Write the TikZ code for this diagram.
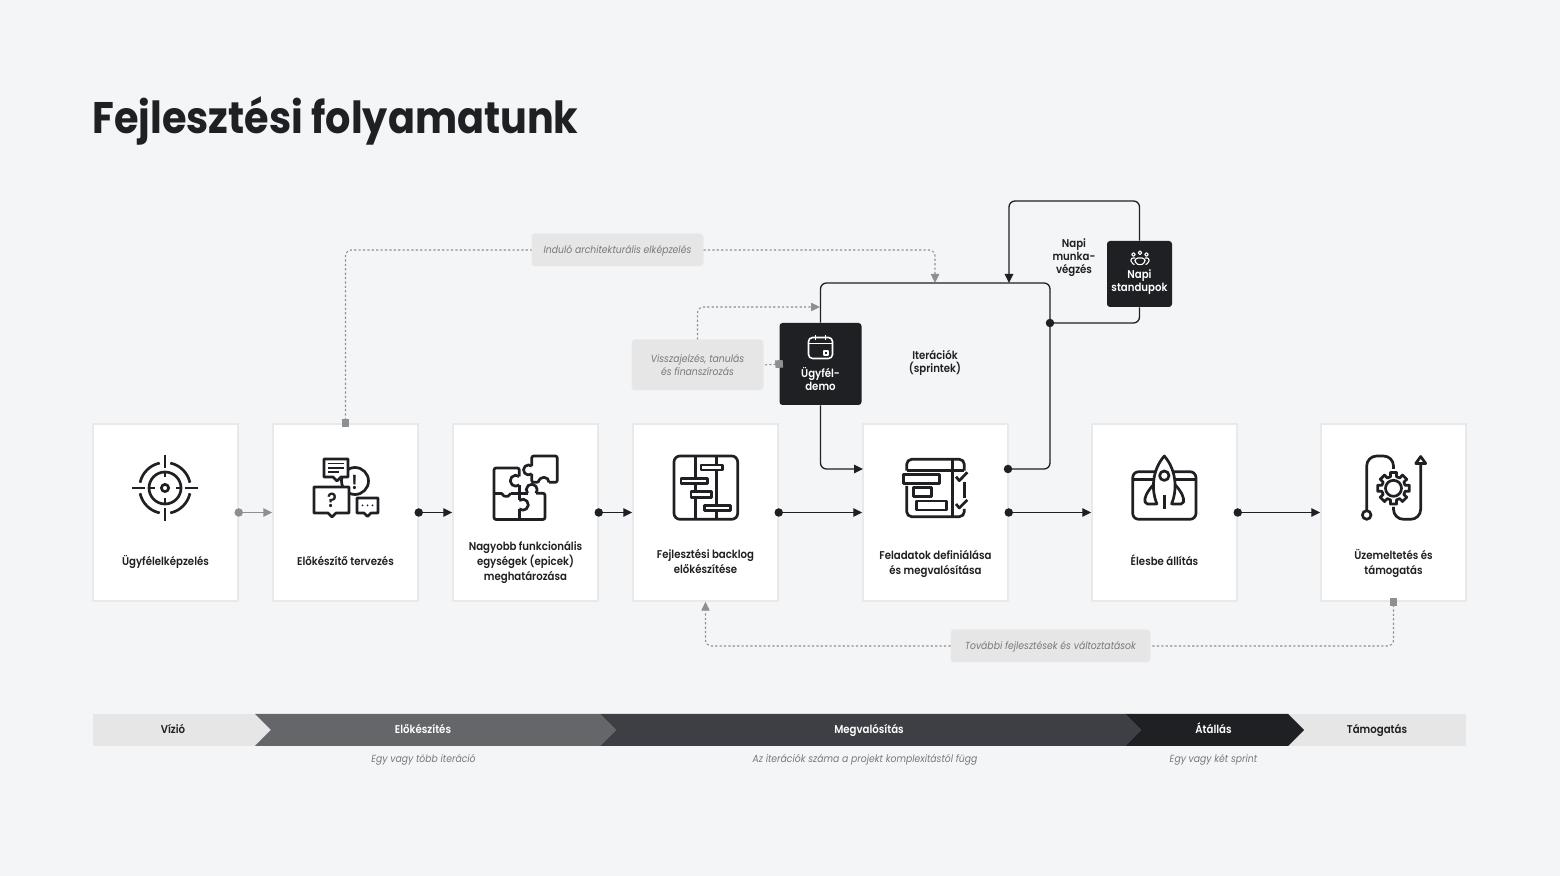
\documentclass[tikz,border=0pt]{standalone}
\usepackage{fontspec}
\setmainfont{Poppins}[FakeStretch=0.9, BoldFont={Poppins SemiBold}]
\newfontfamily\titlefont{Poppins}[FakeStretch=0.9]
\usetikzlibrary{arrows.meta}
\definecolor{paper}{HTML}{F4F5F7}
\definecolor{ink}{HTML}{1F2023}
\definecolor{edge}{HTML}{E9E9EA}
\definecolor{notefill}{HTML}{E6E6E6}
\definecolor{notetext}{HTML}{77787B}
\definecolor{hint}{HTML}{8E8F91}
\definecolor{phaseA}{HTML}{65666A}
\definecolor{phaseB}{HTML}{3E3F44}
\newcommand{\lblfont}{\fontsize{5.65}{7.5}\selectfont\bfseries}
\newcommand{\tightfont}{\fontsize{5.65}{6.5}\selectfont\bfseries}
\newcommand{\notefont}{\fontsize{5.15}{6.5}\selectfont\itshape}
\tikzset{
  card/.style={rectangle, draw=edge, fill=white, line width=.75pt, inner sep=0pt, minimum width=72.5pt, minimum height=88.5pt},
  lbl/.style={align=center, inner sep=0pt, text=ink, font=\lblfont},
  tight/.style={lbl, font=\tightfont},
  oneline/.style={text height=5.2pt, text depth=1.2pt},
  note/.style={rectangle, rounded corners=1.5pt, draw=edge, fill=notefill, line width=.5pt, inner sep=0pt, align=center, text=notetext, font=\notefont},
  hinttxt/.style={align=center, inner sep=0pt, text=notetext, font=\notefont, oneline},
  darkbox/.style={rectangle, rounded corners=1.5pt, fill=ink, inner sep=0pt},
  flow/.style={draw=ink, line width=.65pt, rounded corners=3pt, -{Triangle[length=4.5pt,width=4.2pt]}},
  dotflow/.style={flow, {Circle[length=4.2pt]}-{Triangle[length=4.5pt,width=4.2pt]}, shorten <=-2.1pt},
  plainline/.style={draw=ink, line width=.65pt, rounded corners=3pt},
  hintflow/.style={draw=hint, line width=.55pt, rounded corners=3pt, dash pattern=on 1.1pt off 1.1pt},
  icon/.style={draw=ink, line width=1.35pt, line join=round},
  iconw/.style={draw=white, line width=.8pt, line join=round},
}
\begin{document}
\begin{tikzpicture}[x=.5pt,y=.5pt,yscale=-1]
  \useasboundingbox[fill=paper] (0,0) rectangle (1560,876);
  \node[anchor=west, inner sep=0pt, text=ink, font=\fontsize{22.1}{26}\selectfont\titlefont\bfseries] (title) at (92,121) {Fejlesztési folyamatunk};

  % cards
  \node[card] (vision) at (165.5,512.5) {};
  \node[card] (prep) at (345.5,512.5) {};
  \node[card] (epics) at (525.5,512.5) {};
  \node[card] (backlog) at (705.5,512.5) {};
  \node[card] (tasks) at (935.5,512.5) {};
  \node[card] (golive) at (1164.5,512.5) {};
  \node[card] (ops) at (1393.5,512.5) {};
  \node[lbl, oneline] (visionTxt) at (165.5,561.5) {Ügyfélelképzelés};
  \node[lbl, oneline] (prepTxt) at (345.5,561.5) {Előkészítő tervezés};
  \node[lbl] (epicsTxt) at (525.5,562.5) {Nagyobb funkcionális\\egységek (epicek)\\meghatározása};
  \node[lbl] (backlogTxt) at (705.5,561.5) {Fejlesztési backlog\\előkészítése};
  \node[lbl] (tasksTxt) at (935.5,563.5) {Feladatok definiálása\\és megvalósítása};
  \node[lbl, oneline] (goliveTxt) at (1164.5,561.5) {Élesbe állítás};
  \node[lbl] (opsTxt) at (1393.5,563) {Üzemeltetés és\\támogatás};

  % sprint part
  \node[darkbox, minimum width=41pt, minimum height=41pt] (demo) at (820.5,364) {};
  \node[tight, text=white] (demoTxt) at (820.5,378.5) {Ügyfél-\\demo};
  \node[darkbox, minimum width=32.5pt, minimum height=33pt] (standup) at (1139.5,274) {};
  \node[tight, text=white] (standupTxt) at (1139.5,282.5) {Napi\\standupok};
  \node[tight] (dailyTxt) at (1074,258) {Napi\\munka-\\végzés};
  \node[tight] (sprintTxt) at (935,363) {Iterációk\\(sprintek)};
  \coordinate (taskOut) at (1008,469);
  \coordinate (taskIn) at (863,469);
  \coordinate (sprintNE) at (1050,283);
  \coordinate (dailyOut) at (1050,323);
  \coordinate (loopNW) at (1009,201);
  \coordinate (sprintIn) at (1009,283);
  \coordinate (archIn) at (935,283);
  \coordinate (feedIn) at (820,307);
  \draw[plainline, {Circle[length=4.2pt]}-, shorten <=-2.1pt] (taskOut) -| (sprintNE) -| (demo.north);
  \draw[flow] (demo.south) |- (taskIn);
  \draw[plainline, {Circle[length=4.2pt]}-, shorten <=-2.1pt] (dailyOut) -| (standup.south);
  \draw[flow] (standup.north) |- (loopNW) -- (sprintIn);

  % main flow
  \draw[dotflow, draw=hint] (vision.east) -- (prep.west);
  \draw[dotflow] (prep.east) -- (epics.west);
  \draw[dotflow] (epics.east) -- (backlog.west);
  \draw[dotflow] (backlog.east) -- (tasks.west);
  \draw[dotflow] (tasks.east) -- (golive.west);
  \draw[dotflow] (golive.east) -- (ops.west);

  % notes
  \node[note, minimum width=85.5pt, minimum height=16pt, oneline] (archNote) at (617.5,250) {Induló architekturális elképzelés};
  \node[note, minimum width=65.5pt, minimum height=25pt] (feedNote) at (697.5,365) {\raisebox{.5pt}{Visszajelzés, tanulás}\\\raisebox{.5pt}{és finanszírozás}};
  \node[note, minimum width=99.5pt, minimum height=16pt, oneline] (moreNote) at (1050.5,646) {További fejlesztések és változtatások};
  \draw[hintflow, {Square[length=3.8pt,fill=hint]}-, shorten <=-1.9pt] (prep.north) |- (archNote.west);
  \draw[hintflow, -{Triangle[length=4.5pt,width=4.2pt,fill=hint]}] (archNote.east) -| (archIn);
  \draw[hintflow, {Square[length=3.8pt,fill=hint]}-, shorten <=-1.9pt] (demo.west) -- (feedNote.east);
  \draw[hintflow, -{Triangle[length=4.5pt,width=4.2pt,fill=hint]}] (feedNote.north) |- (feedIn);
  \draw[hintflow, -{Triangle[length=4.5pt,width=4.2pt,fill=hint]}] (moreNote.west) -| (backlog.south);
  \draw[hintflow, {Square[length=3.8pt,fill=hint]}-, shorten <=-1.9pt] (ops.south) |- (moreNote.east);

  % phase bar
  \fill[notefill] (93,714) rectangle (272,746);
  \fill[notefill] (1280,714) rectangle (1466,746);
  \fill[phaseA] (255,714) -- (600,714) -- (616,730) -- (600,746) -- (255,746) -- (271,730) -- cycle;
  \fill[phaseB] (600,714) -- (1125,714) -- (1141,730) -- (1125,746) -- (600,746) -- (616,730) -- cycle;
  \fill[ink] (1125,714) -- (1288,714) -- (1304,730) -- (1288,746) -- (1125,746) -- (1141,730) -- cycle;
  \node[lbl, oneline] (visionPh) at (173,730) {Vízió};
  \node[lbl, oneline, text=white] (prepPh) at (423,730) {Előkészítés};
  \node[lbl, oneline, text=white] (buildPh) at (869,730) {Megvalósítás};
  \node[lbl, oneline, text=white] (cutPh) at (1213.5,730) {Átállás};
  \node[lbl, oneline] (supportPh) at (1377,730) {Támogatás};
  \node[hinttxt] (prepHint) at (423.5,759) {Egy vagy több iteráció};
  \node[hinttxt] (buildHint) at (865,759) {Az iterációk száma a projekt komplexitástól függ};
  \node[hinttxt] (cutHint) at (1213.5,759) {Egy vagy két sprint};

  % icon: target
  \coordinate (aim) at (165,488);
  \draw[icon] (aim) circle[radius=3.6];
  \draw[icon] (aim) circle[radius=16];
  \foreach \a in {0,90,180,270} {
    \draw[icon] ([shift={(\a+12:25.5)}]aim) arc[start angle=\a+12, end angle=\a+78, radius=25.5];
    \draw[icon] ([shift={(\a:33)}]aim) -- ([shift={(\a:20)}]aim);
    \draw[icon] ([shift={(\a:16)}]aim) -- ([shift={(\a:10.5)}]aim);
  }

  % icon: speech bubbles
  \draw[icon] (355,481) circle[radius=13.5];
  \node[inner sep=0pt, text=ink, font=\fontsize{10}{10}\selectfont\bfseries] (bang) at (354.5,482) {!};
  \draw[icon, fill=white] (324,459) -- (348,459) -- (348,477) -- (341,477) -- (337,481) -- (333,477) -- (324,477) -- cycle;
  \draw[icon, line width=.9pt] (328,463.5) -- (344,463.5) (328,467.8) -- (344,467.8) (328,472) -- (339,472);
  \draw[icon, fill=white] (314,487) -- (349,487) -- (349,513) -- (336,513) -- (332,517) -- (328,513) -- (314,513) -- cycle;
  \node[inner sep=0pt, text=ink, font=\fontsize{10}{10}\selectfont\bfseries] (query) at (332,500.5) {?};
  \draw[icon, fill=white] (357,498) -- (378,498) -- (378,513) -- (371,513) -- (367.5,516.5) -- (364,513) -- (357,513) -- cycle;
  \fill[ink] (362.5,505.5) circle[radius=1] (367.5,505.5) circle[radius=1] (372.5,505.5) circle[radius=1];

  % icon: puzzle
  \draw[icon, rounded corners=1pt] (549,482.3) arc[start angle=0, end angle=-180, radius=5] -- (531.7,482.3) -- (531.7,474);
  \draw[icon, rounded corners=1pt] (549,482.3) -- (557.3,482.3) -- (557.3,456) -- (531.7,456) -- (531.7,466.2);
  \draw[icon] (531.7,473.8) arc[start angle=50, end angle=310, radius=5];
  \draw[icon, rounded corners=1pt] (519.3,476.5) -- (519.3,468) -- (494,468) -- (494,519.5) -- (545,519.5) -- (545,493.3) -- (536.2,493.3);
  \draw[icon] (519.3,476.5) arc[start angle=-50, end angle=-310, radius=5.5];
  \draw[icon] (519.3,485) -- (519.3,500.5);
  \draw[icon] (519.3,500.5) arc[start angle=-130, end angle=130, radius=5.5];
  \draw[icon] (519.3,509) -- (519.3,519.5);
  \draw[icon] (494,493.3) -- (501.5,493.3);
  \draw[icon] (501.5,493.3) arc[start angle=160, end angle=20, radius=5];
  \draw[icon] (511,493.3) -- (527.5,493.3);
  \draw[icon] (527.5,493.3) arc[start angle=140, end angle=400, radius=5.5];

  % icon: gantt board
  \draw[icon, rounded corners=3pt] (674,456) rectangle (737.7,519.3);
  \draw[icon] (695.3,456) -- (695.3,519.3) (716.7,456) -- (716.7,519.3);
  \draw[icon, fill=white] (701,465) rectangle (722.3,470);
  \draw[icon, fill=white] (681,478.3) rectangle (707.7,483.3);
  \draw[icon, fill=white] (691,491.7) rectangle (711.7,497.3);
  \draw[icon, fill=white] (704.3,505.3) rectangle (730.7,510.7);

  % icon: task list
  \draw[icon, rounded corners=2.5pt] (906.7,470.7) -- (906.7,459.3) -- (964.3,459.3) -- (964.3,470.7);
  \draw[icon] (906.7,470.7) -- (964.3,470.7);
  \draw[icon, rounded corners=2.5pt] (906.7,486) -- (906.7,516.7) -- (964.3,516.7) -- (964.3,509);
  \draw[icon] (952.3,459.3) -- (952.3,516.7);
  \draw[icon, fill=white] (903.3,474.3) rectangle (939.3,483.3);
  \draw[icon] (913.3,487.7) rectangle (931.7,496.7);
  \draw[icon] (916.7,501) rectangle (946.7,510);
  \draw[icon] (956,476.7) -- (959.3,480.7) -- (967.3,472.3);
  \draw[icon] (956,504) -- (959.3,508) -- (967.3,500);
  \draw[icon] (964.3,481.7) -- (964.3,498);

  % icon: rocket
  \draw[icon, rounded corners=3pt] (1132.7,471.7) rectangle (1196,519.3);
  \draw[icon] (1132.7,479.5) -- (1196,479.5);
  \draw[icon, fill=white, rounded corners=1pt] (1154,484) .. controls (1147,492) and (1144,498) .. (1145.5,504) -- (1158,504) -- cycle;
  \draw[icon, fill=white, rounded corners=1pt] (1174.5,484) .. controls (1181.5,492) and (1184.5,498) .. (1183,504) -- (1170.5,504) -- cycle;
  \fill[white] (1157,504) .. controls (1151,490) and (1152,470) .. (1164.3,456) .. controls (1176.5,470) and (1177.5,490) .. (1171.5,504) -- cycle;
  \draw[icon] (1157,504) .. controls (1151,490) and (1152,470) .. (1164.3,456) .. controls (1176.5,470) and (1177.5,490) .. (1171.5,504);
  \draw[icon] (1164.3,475.7) circle[radius=4.7];
  \draw[icon] (1164.3,495) -- (1164.3,509.5);

  % icon: gear and loop
  \coordinate (gear) at (1393.5,488.3);
  \draw[icon] (gear) circle[radius=8];
  \draw[icon] ([shift={(-11:16)}]gear) \foreach \a in {0,45,...,315} {
    -- ([shift={(\a-11:16)}]gear) -- ([shift={(\a+11:16)}]gear) -- ([shift={(\a+14:12)}]gear) -- ([shift={(\a+31:12)}]gear)
  } -- cycle;
  \draw[icon] (1366.7,515) circle[radius=4.3];
  \draw[icon, rounded corners=5pt] (1366.7,510.7) -- (1366.7,456) -- (1393.5,456) -- (1393.5,469);
  \draw[icon, rounded corners=5pt] (1393.5,507) -- (1393.5,519.3) -- (1420.7,519.3) -- (1420.7,463);
  \draw[icon, fill=white] (1420.7,456.5) -- (1425.7,463.5) -- (1415.7,463.5) -- cycle;

  % icon: calendar
  \draw[iconw, rounded corners=2pt] (808.5,337.5) rectangle (832.5,358.5);
  \draw[iconw] (808.5,343.5) -- (832.5,343.5);
  \draw[iconw] (815.5,335) -- (815.5,340.5) (825.5,335) -- (825.5,340.5);
  \draw[iconw] (824,351) rectangle (828,355);

  % icon: team
  \draw[iconw, line width=.55pt] (1133.5,254.5) circle[radius=1.8] (1140,252.8) circle[radius=1.8] (1146.5,254.5) circle[radius=1.8];
  \draw[iconw, line width=.55pt, rounded corners=1.5pt] (1135,258) -- (1145,258) -- (1145,263) -- (1140,265.5) -- (1135,263) -- cycle;
  \draw[iconw, line width=.55pt, rounded corners=1pt] (1135,258) -- (1131,258) -- (1131,263) -- (1134.5,264.5);
  \draw[iconw, line width=.55pt, rounded corners=1pt] (1145,258) -- (1149,258) -- (1149,263) -- (1145.5,264.5);
\end{tikzpicture}
\end{document}
